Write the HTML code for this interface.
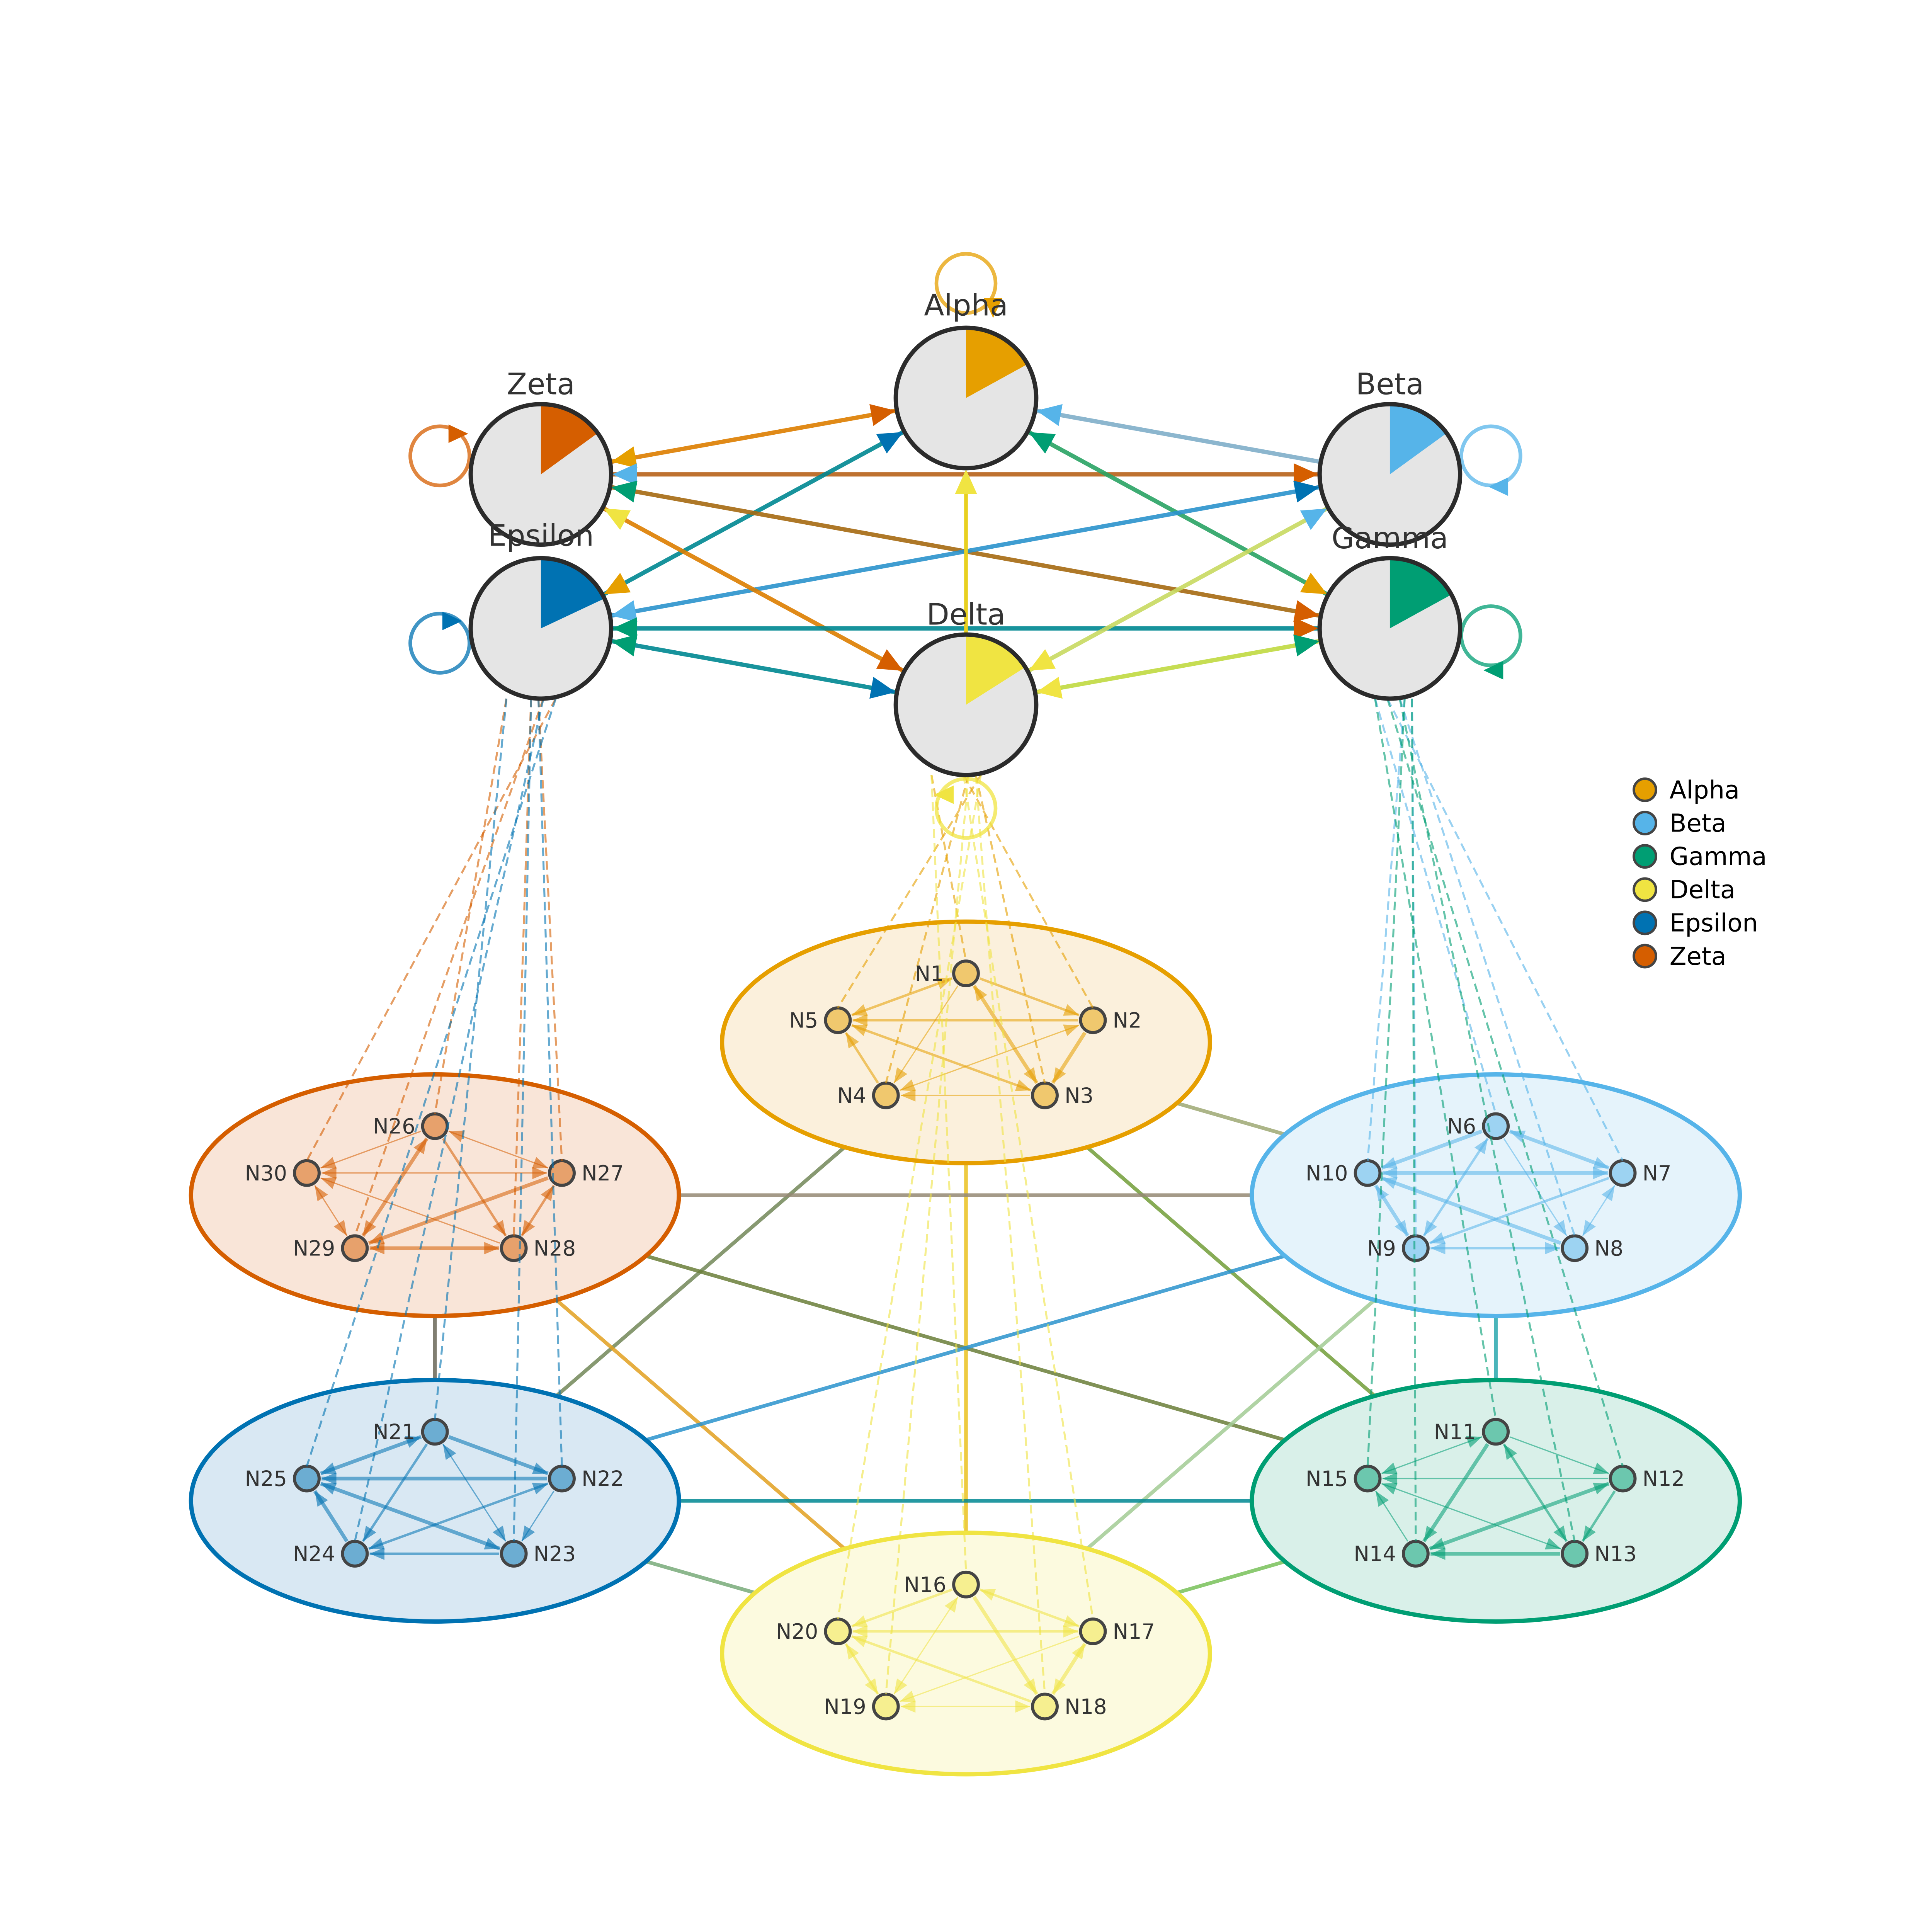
<!DOCTYPE html>
<html><head><meta charset="utf-8"><style>
html,body{margin:0;padding:0;background:#fff;overflow:hidden;width:100%;height:100%;}
svg{display:block;width:100vw;height:100vh;}
text{font-family:"DejaVu Sans","Liberation Sans",sans-serif;fill:#333;}
</style></head><body>
<svg id="s" viewBox="0 0 1568 1568" preserveAspectRatio="xMidYMid meet" xmlns="http://www.w3.org/2000/svg">
<rect width="1568" height="1568" fill="#fff"/>
<g id="inter"></g>
<g id="ell"></g>
<g id="intra"></g>
<g id="cnodes"></g>
<g id="dash"></g>
<g id="top"></g>
<g id="tnodes"></g>
<g id="labels">
<text x="784" y="256" font-size="24" text-anchor="middle">Alpha</text>
<text x="439" y="320" font-size="24" text-anchor="middle">Zeta</text>
<text x="1128" y="320" font-size="24" text-anchor="middle">Beta</text>
<text x="439" y="443" font-size="24" text-anchor="middle">Epsilon</text>
<text x="1128" y="445" font-size="24" text-anchor="middle">Gamma</text>
<text x="784" y="507" font-size="24" text-anchor="middle">Delta</text>
<g font-size="17">
<text x="766" y="796" text-anchor="end">N1</text><text x="903" y="834">N2</text><text x="864" y="895">N3</text><text x="703" y="895" text-anchor="end">N4</text><text x="664" y="834" text-anchor="end">N5</text>
<text x="1198" y="920" text-anchor="end">N6</text><text x="1333" y="958">N7</text><text x="1294" y="1019">N8</text><text x="1133" y="1019" text-anchor="end">N9</text><text x="1094" y="958" text-anchor="end">N10</text>
<text x="1198" y="1168" text-anchor="end">N11</text><text x="1333" y="1206">N12</text><text x="1294" y="1267">N13</text><text x="1133" y="1267" text-anchor="end">N14</text><text x="1094" y="1206" text-anchor="end">N15</text>
<text x="768" y="1292" text-anchor="end">N16</text><text x="903" y="1330">N17</text><text x="864" y="1391">N18</text><text x="703" y="1391" text-anchor="end">N19</text><text x="664" y="1330" text-anchor="end">N20</text>
<text x="337" y="1168" text-anchor="end">N21</text><text x="472" y="1206">N22</text><text x="433" y="1267">N23</text><text x="272" y="1267" text-anchor="end">N24</text><text x="233" y="1206" text-anchor="end">N25</text>
<text x="337" y="920" text-anchor="end">N26</text><text x="472" y="958">N27</text><text x="433" y="1019">N28</text><text x="272" y="1019" text-anchor="end">N29</text><text x="233" y="958" text-anchor="end">N30</text>
</g>
<g font-size="20">
<circle cx="1335" cy="641" r="9" fill="#E69F00" stroke="#444" stroke-width="2"/><text x="1355" y="648" style="fill:#000">Alpha</text>
<circle cx="1335" cy="668" r="9" fill="#56B4E9" stroke="#444" stroke-width="2"/><text x="1355" y="675" style="fill:#000">Beta</text>
<circle cx="1335" cy="695" r="9" fill="#009E73" stroke="#444" stroke-width="2"/><text x="1355" y="702" style="fill:#000">Gamma</text>
<circle cx="1335" cy="722" r="9" fill="#F0E442" stroke="#444" stroke-width="2"/><text x="1355" y="729" style="fill:#000">Delta</text>
<circle cx="1335" cy="749" r="9" fill="#0072B2" stroke="#444" stroke-width="2"/><text x="1355" y="756" style="fill:#000">Epsilon</text>
<circle cx="1335" cy="776" r="9" fill="#D55E00" stroke="#444" stroke-width="2"/><text x="1355" y="783" style="fill:#000">Zeta</text>
</g>
</g>
</svg>
<script>
var NS="http://www.w3.org/2000/svg";
function el(p,t,a){var e=document.createElementNS(NS,t);for(var k in a)e.setAttribute(k,a[k]);document.getElementById(p).appendChild(e);return e;}
var C={A:"#E69F00",B:"#56B4E9",G:"#009E73",D:"#F0E442",E:"#0072B2",Z:"#D55E00"};
var T={A:[784,323],Z:[439,385],B:[1128,385],E:[439,510],G:[1128,510],D:[784,572]};
var K={A:[784,846],Z:[353,970],B:[1214,970],E:[353,1218],G:[1214,1218],D:[784,1342]};
var FILL={A:"#FBF0DC",Z:"#F9E5D8",B:"#E5F3FB",E:"#D9E8F3",G:"#D9F0E9",D:"#FCFADF"};
function mix(a,b){var x=parseInt(a.slice(1),16),y=parseInt(b.slice(1),16);var r=((x>>16)+(y>>16))>>1,g=(((x>>8)&255)+((y>>8)&255))>>1,bl=((x&255)+(y&255))>>1;return "rgb("+r+","+g+","+bl+")";}
var off=[[0,-56],[103,-18],[64,43],[-65,43],[-104,-18]];
var idx={A:0,B:1,G:2,D:3,E:4,Z:5};
var N={};
var pairs=[["A","B"],["A","E"],["A","G"],["A","D"],["Z","B"],["Z","G"],["Z","D"],["Z","E"],["B","E"],["B","D"],["B","G"],["E","G"],["E","D"],["G","D"]];
pairs.forEach(function(p){var a=K[p[0]],b=K[p[1]];el("inter","line",{x1:a[0],y1:a[1],x2:b[0],y2:b[1],stroke:mix(C[p[0]],C[p[1]]),"stroke-width":3,opacity:0.85});});
function arrow(g,x,y,dx,dy,col,L,W,op){var l=Math.hypot(dx,dy);dx/=l;dy/=l;var bx=x-dx*L,by=y-dy*L;el(g,"polygon",{points:x+","+y+" "+(bx-dy*W/2)+","+(by+dx*W/2)+" "+(bx+dy*W/2)+","+(by-dx*W/2),fill:col,opacity:op||1});}
for(var k in K){var c=K[k];el("ell","ellipse",{cx:c[0],cy:c[1],rx:198,ry:98,fill:FILL[k],stroke:C[k],"stroke-width":3.5});
 var pts=off.map(function(o){return [c[0]+o[0],c[1]+o[1]];});N[k]=pts;
 for(var i=0;i<5;i++)for(var j=i+1;j<5;j++){var a=pts[i],b=pts[j];var dx=b[0]-a[0],dy=b[1]-a[1],l=Math.hypot(dx,dy);var w=((i*3+j+idx[k])%3)+1;
  el("intra","line",{x1:a[0]+dx/l*12,y1:a[1]+dy/l*12,x2:b[0]-dx/l*12,y2:b[1]-dy/l*12,stroke:C[k],"stroke-width":w,opacity:0.55});
  arrow("intra",b[0]-dx/l*12,b[1]-dy/l*12,dx,dy,C[k],12,10,0.6);
  if((i+j+idx[k])%2==0)arrow("intra",a[0]+dx/l*12,a[1]+dy/l*12,-dx,-dy,C[k],12,10,0.6);}
 pts.forEach(function(p){el("cnodes","circle",{cx:p[0],cy:p[1],r:10,fill:C[k],"fill-opacity":0.5,stroke:"#444","stroke-width":2.5});});}
function dash(src,dst,col){var s=T[src];N[dst].forEach(function(p,i){var sy=s[1]+57;el("dash","line",{x1:s[0]+(i-2)*10+(p[0]>s[0]?8:-8),y1:sy,x2:p[0],y2:p[1]-10,stroke:col,"stroke-width":1.6,"stroke-dasharray":"7,4",opacity:0.6});});}
dash("D","A",C.A);dash("D","D",C.D);dash("E","Z",C.Z);dash("E","E",C.E);dash("G","B",C.B);dash("G","G",C.G);
function edge(a,b,col,ca,cb){var p=T[a],q=T[b];var dx=q[0]-p[0],dy=q[1]-p[1],l=Math.hypot(dx,dy);dx/=l;dy/=l;var r=58;
 var x1=p[0]+dx*r,y1=p[1]+dy*r,x2=q[0]-dx*r,y2=q[1]-dy*r;
 el("top","line",{x1:x1,y1:y1,x2:x2,y2:y2,stroke:col,"stroke-width":3.5,opacity:0.9});
 if(cb)arrow("top",x2,y2,dx,dy,cb,20,18);if(ca)arrow("top",x1,y1,-dx,-dy,ca,20,18);}
edge("Z","A",mix(C.Z,C.A),C.A,C.Z);
edge("B","A",mix(C.B,"#aaaaaa"),null,C.B);
edge("Z","B",mix(C.Z,"#996633"),C.B,C.Z);
edge("E","A",mix(C.E,C.G),C.A,C.E);
edge("G","A",mix(C.G,"#55aa55"),C.A,C.G);
edge("Z","G",mix(C.Z,"#777722"),C.G,C.Z);
edge("E","B",mix(C.E,C.B),C.B,C.E);
edge("Z","D",mix(C.Z,C.A),C.D,C.Z);
edge("E","G",mix(C.E,C.G),C.G,C.Z);
edge("E","D",mix(C.E,C.G),C.G,C.E);
edge("B","D",mix(C.D,"#a0d080"),C.B,C.D);
edge("G","D",mix(C.D,"#90d040"),C.G,C.D);
el("top","line",{x1:784,y1:515,x2:784,y2:384,stroke:"#E8D020","stroke-width":3});
arrow("top",784,381,0,-1,C.D,20,18);
function loop(x,y,col,ax,ay,dx,dy){el("top","circle",{cx:x,cy:y,r:24,fill:"none",stroke:col,"stroke-width":3,opacity:0.75});arrow("top",ax,ay,dx,dy,col,16,15);}
loop(784,230,C.A,806,258,0,1);
loop(357,370,C.Z,380,352,1,0);
loop(357,522,C.E,375,504,1,0);
loop(1210,370,C.B,1208,395,-1,0);
loop(1210,516,C.G,1204,544,-1,0);
loop(784,656,C.D,758,645,-1,0);
var fr={A:0.17,B:0.15,G:0.17,D:0.16,E:0.18,Z:0.15};
for(var k in T){var p=T[k],r=57;el("tnodes","circle",{cx:p[0],cy:p[1],r:r,fill:"#E5E5E5"});
 var a=fr[k]*2*Math.PI;el("tnodes","path",{d:"M"+p[0]+","+p[1]+" L"+p[0]+","+(p[1]-r)+" A"+r+","+r+" 0 0 1 "+(p[0]+r*Math.sin(a))+","+(p[1]-r*Math.cos(a))+" Z",fill:C[k]});
 el("tnodes","circle",{cx:p[0],cy:p[1],r:r,fill:"none",stroke:"#2b2b2b","stroke-width":3.5});}
</script>
</body></html>
